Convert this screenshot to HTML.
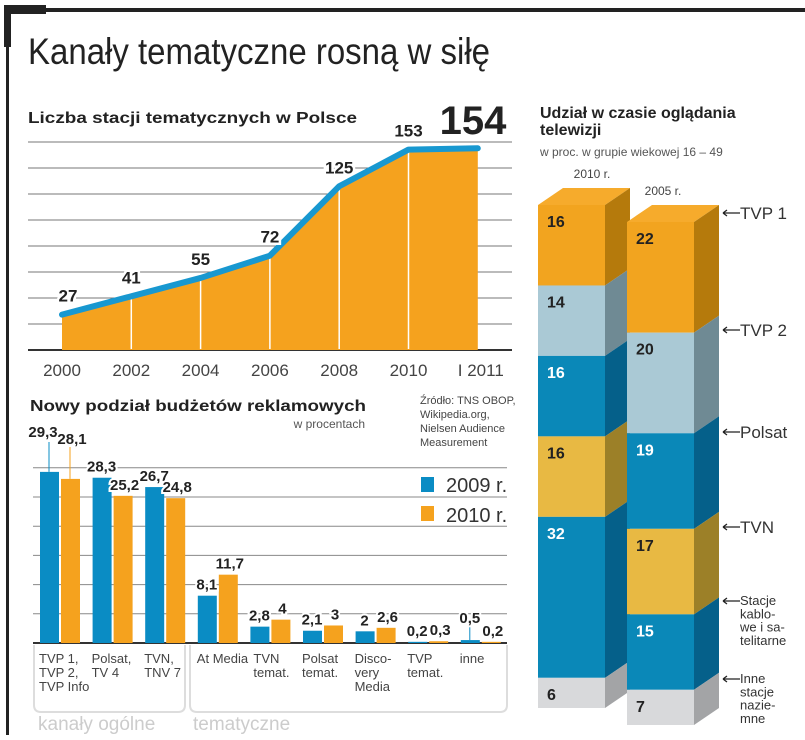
<!DOCTYPE html>
<html><head><meta charset="utf-8"><style>
html,body{margin:0;padding:0;background:#fff}
svg{display:block;font-family:"Liberation Sans",sans-serif}
</style></head><body>
<svg id="root" width="805" height="740" viewBox="0 0 805 740" xmlns="http://www.w3.org/2000/svg">
<g>
<rect x="12" y="8" width="793" height="4" fill="#222"/>
<rect x="4" y="5" width="42" height="9" fill="#222"/>
<rect x="4" y="5" width="7" height="42" fill="#222"/>
<rect x="6" y="40" width="3" height="695" fill="#222"/>
</g>
<text x="28" y="64" font-size="37" fill="#222" textLength="462" lengthAdjust="spacingAndGlyphs">Kanały tematyczne rosną w siłę</text>

<!-- line chart -->
<g id="lineChart">
<text x="28" y="123" font-size="16" font-weight="bold" fill="#222" textLength="329" lengthAdjust="spacingAndGlyphs">Liczba stacji tematycznych w Polsce</text>
<text x="473" y="134" font-size="40" font-weight="bold" fill="#222" text-anchor="middle">154</text>
</g>

<!-- bar chart -->
<g id="barChart">
<text x="30" y="411" font-size="16" font-weight="bold" fill="#222" textLength="336" lengthAdjust="spacingAndGlyphs">Nowy podział budżetów reklamowych</text>
<text x="365" y="428" font-size="12" fill="#555" text-anchor="end">w procentach</text>
<g font-size="11" fill="#444">
<text x="420" y="404">Źródło: TNS OBOP,</text>
<text x="420" y="418">Wikipedia.org,</text>
<text x="420" y="432">Nielsen Audience</text>
<text x="420" y="446">Measurement</text>
</g>
<g>
<rect x="421" y="477" width="13" height="15" fill="#0a8cc4"/>
<text x="446" y="492" font-size="20" fill="#333">2009 r.</text>
<rect x="421" y="506" width="13" height="15" fill="#f5a21e"/>
<text x="446" y="522" font-size="20" fill="#333">2010 r.</text>
</g>
<path d="M34 645 V705 Q34 712 41 712 H178 Q185 712 185 705 V645" fill="none" stroke="#ddd" stroke-width="2"/>
<path d="M190 645 V705 Q190 712 197 712 H500 Q507 712 507 705 V645" fill="none" stroke="#ddd" stroke-width="2"/>
<text x="38" y="730" font-size="19" fill="#ccc">kanały ogólne</text>
<text x="193" y="730" font-size="19" fill="#ccc">tematyczne</text>
</g>

<!-- stacked -->
<g id="stackChart">
<text x="540" y="118" font-size="16" font-weight="bold" fill="#222">Udział w czasie oglądania</text>
<text x="540" y="135" font-size="16" font-weight="bold" fill="#222">telewizji</text>
<text x="540" y="156" font-size="12" fill="#555">w proc. w grupie wiekowej 16 – 49</text>
</g>
</svg>
<script>
var NS="http://www.w3.org/2000/svg";
// line chart data
var years=["2000","2002","2004","2006","2008","2010","I 2011"];
var stations=[27,41,55,72,125,153,154];
var stationLabels=["27","41","55","72","125","153",""];
// bar chart data
var barCats=[["TVP 1,","TVP 2,","TVP Info"],["Polsat,","TV 4"],["TVN,","TNV 7"],["At Media"],["TVN","temat."],["Polsat","temat."],["Disco-","very","Media"],["TVP","temat."],["inne"]];
var budget2009=[29.3,28.3,26.7,8.1,2.8,2.1,2,0.2,0.5];
var budget2010=[28.1,25.2,24.8,11.7,4,3,2.6,0.3,0.2];
// stacked data
var shareCats=["TVP 1","TVP 2","Polsat","TVN","Stacje kablowe i satelitarne","Inne stacje naziemne"];
var share2010=[16,14,16,16,32,6];
var share2005=[22,20,19,17,15,7];

function el(tag,attrs,parent,txt){var e=document.createElementNS(NS,tag);for(var k in attrs)e.setAttribute(k,attrs[k]);if(txt!==undefined)e.textContent=txt;parent.appendChild(e);return e;}
function fmt(v){return String(v).replace('.',',');}

// ---- line chart
(function(){
var g=document.getElementById('lineChart');
function lx(i){return 62+i*69.3;}
function ly(v){return 350-v*1.31;}
for(var k=0;k<9;k++){var y=350-k*26;
var gl=el('line',{x1:28,x2:512,y1:y,y2:y,stroke:k==0?'#333':'#777','stroke-width':k==0?2:1},g);

}
var pts=stations.map(function(v,i){return lx(i)+','+ly(v);});
var area=el('polygon',{points:lx(0)+',350 '+pts.join(' ')+' '+lx(stations.length-1)+',350',fill:'#f5a21e'},g);


for(var i=1;i<stations.length-1;i++){var vl=el('line',{x1:lx(i),x2:lx(i),y1:349,y2:ly(stations[i]),stroke:'#fff','stroke-width':1.5},g);

}
var ln=el('polyline',{points:pts.join(' '),fill:'none',stroke:'#1898d0','stroke-width':6,'stroke-linejoin':'round','stroke-linecap':'round'},g);


for(var i=0;i<stations.length;i++){
 if(stationLabels[i]){var t=el('text',{x:lx(i)+(i==0?6:0),y:ly(stations[i])-13,'font-size':17,'font-weight':'bold',fill:'#222','text-anchor':'middle',stroke:'#fff','stroke-width':5,'paint-order':'stroke'},g,stationLabels[i]);
 
 }
 var a=el('text',{x:lx(i)+(i==6?3:0),y:376,'font-size':17,fill:'#444','text-anchor':'middle'},g,years[i]);
 
 
}
})();

// ---- bar chart
(function(){
var g=document.getElementById('barChart');
function by(v){return 643-v*5.84;}
function gx(i){return 40+i*52.6;}
for(var k=0;k<7;k++){var y=643-k*29.2;
var gl=el('line',{x1:33,x2:507,y1:y,y2:y,stroke:k==0?'#333':'#888','stroke-width':k==0?2:1},g);

}
for(var i=0;i<budget2009.length;i++){
 var x=gx(i);
 var b1=el('rect',{x:x,y:by(budget2009[i]),width:19,height:643-by(budget2009[i]),fill:'#0a8cc4'},g);
 
 
 var b2=el('rect',{x:x+21,y:by(budget2010[i]),width:19,height:643-by(budget2010[i]),fill:'#f5a21e'},g);
 
 
 var y1=Math.min(by(budget2009[i])-6,639), y2=Math.min(by(budget2010[i])-6,639);
 if(i==0){y1=437;y2=444;
  el('line',{x1:x+9,x2:x+9,y1:442,y2:by(budget2009[i]),stroke:'#0a8cc4'},g);
  el('line',{x1:x+30,x2:x+30,y1:447,y2:by(budget2010[i]),stroke:'#f5a21e'},g);}
 if(i==8){y1=623;el('line',{x1:x+9,x2:x+9,y1:626,y2:by(budget2009[i]),stroke:'#0a8cc4'},g);}
 var t1=el('text',{x:x+(i==0?3:9),y:y1,'font-size':15,'font-weight':'bold',fill:'#222','text-anchor':'middle',stroke:'#fff','stroke-width':4,'paint-order':'stroke'},g,fmt(budget2009[i]));
 
 
 var t2=el('text',{x:x+32,y:y2,'font-size':15,'font-weight':'bold',fill:'#222','text-anchor':'middle',stroke:'#fff','stroke-width':4,'paint-order':'stroke'},g,fmt(budget2010[i]));
 
 
 for(var j=0;j<barCats[i].length;j++){
  var c=el('text',{x:x-1+(i==4?4:0),y:663+j*14,'font-size':13,fill:'#444'},g,barCats[i][j]);
  
  }
}
})();

// ---- stacked columns
(function(){
var g=document.getElementById('stackChart');
var light={0:'#f2a41f',1:'#aac9d5',2:'#0a88b8',3:'#e8b943',4:'#0a88b8',5:'#d8d9db'};
var side={0:'#b57a0c',1:'#6f8a94',2:'#05608a',3:'#9c8028',4:'#05608a',5:'#a3a4a6'};
var txtc={0:'#222',1:'#222',2:'#fff',3:'#222',4:'#fff',5:'#222'};
var DX=25,DY=-17,W=67,S=5.03;
function col(vals,xl,top,name,label,lx,ly){
 var tl=el('text',{x:lx,y:ly,'font-size':12,fill:'#444','text-anchor':'middle'},g,label);
 
 
 var xr=xl+W,y=top;
 var tp=el('polygon',{points:[xl,top,xr,top,xr+DX,top+DY,xl+DX,top+DY].join(' '),fill:'#f6ab2c'},g);
 
 
 for(var i=0;i<vals.length;i++){
  var h=vals[i]*S;
  var f=el('rect',{x:xl,y:y,width:W,height:h,fill:light[i]},g);
  
  
  var s=el('polygon',{points:[xr,y,xr+DX,y+DY,xr+DX,y+h+DY,xr,y+h].join(' '),fill:side[i]},g);
  
  
  var t=el('text',{x:xl+9,y:y+22,'font-size':16,'font-weight':'bold',fill:txtc[i]},g,String(vals[i]));
  
  
  y+=h;
 }
 return y;
}
col(share2010,538,205,'column-2010','2010 r.',592,178);
col(share2005,627,222,'column-2005','2005 r.',663,195);
// right labels
var lab=[[["TVP 1"],213,17],[["TVP 2"],330,17],[["Polsat"],432,17],[["TVN"],527,17],[["Stacje","kablo-","we i sa-","telitarne"],601,13],[["Inne","stacje","nazie-","mne"],679,13]];
for(var i=0;i<lab.length;i++){
 var yy=lab[i][1];
 var a=el('path',{d:'M723 '+yy+' H740 M723 '+yy+' l4 -3 M723 '+yy+' l4 3',stroke:'#222','stroke-width':1.3,fill:'none'},g);
 
 
 for(var j=0;j<lab[i][0].length;j++){
  var t=el('text',{x:740,y:yy+(lab[i][2]>14?6:4)+j*13.3,'font-size':lab[i][2],fill:'#333'},g,lab[i][0][j]);
  
  }
}
})();
</script>
</body></html>
